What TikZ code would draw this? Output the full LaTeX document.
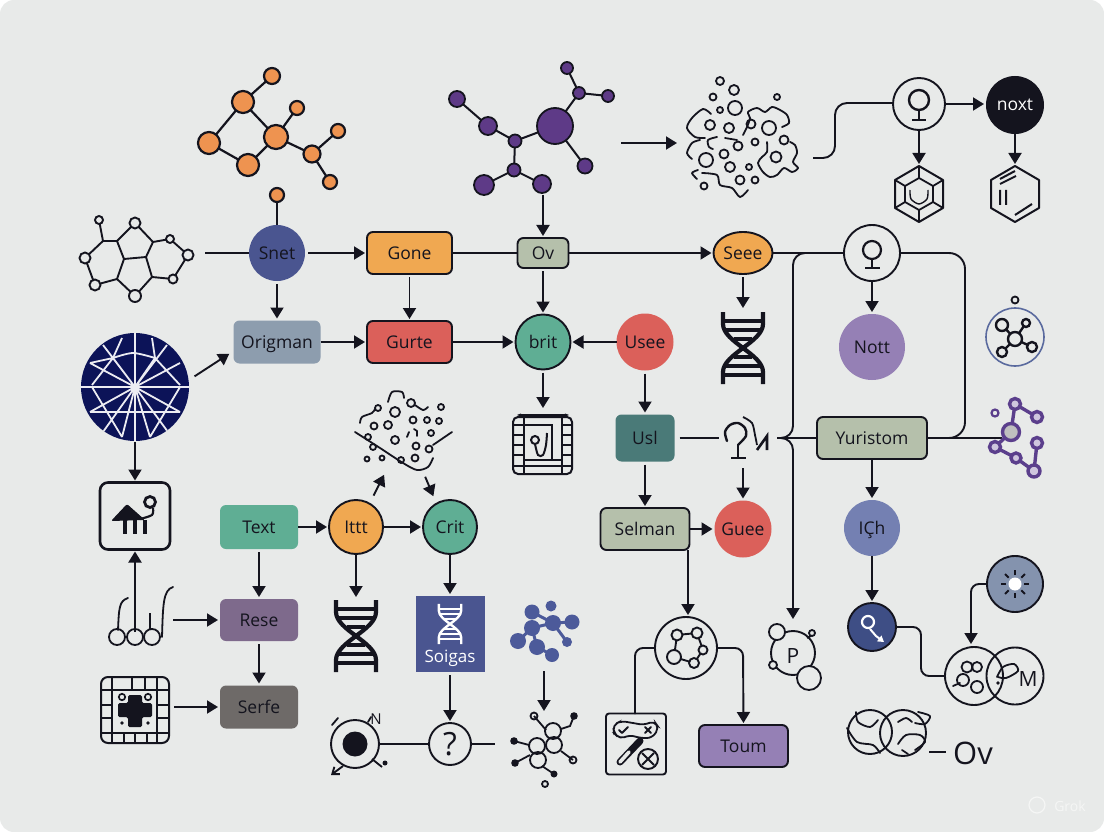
\documentclass[tikz,border=0pt]{standalone}
\usepackage{fontspec}
\setmainfont{Open Sans}
\usetikzlibrary{arrows.meta,shapes.geometric}
\definecolor{bgc}{HTML}{E8EAE9}
\definecolor{ink}{HTML}{14141E}
\definecolor{cOrange}{HTML}{F0A851}
\definecolor{cAtomO}{HTML}{EE9350}
\definecolor{cRed}{HTML}{DB605A}
\definecolor{cTeal}{HTML}{5FAE94}
\definecolor{cSage}{HTML}{B5C0AB}
\definecolor{cNavy}{HTML}{4A5590}
\definecolor{cSlate}{HTML}{8D9DAE}
\definecolor{cPurple}{HTML}{5E3A87}
\definecolor{cLilac}{HTML}{9580B5}
\definecolor{cPetrol}{HTML}{4A7A78}
\definecolor{cMauve}{HTML}{7E6A8C}
\definecolor{cTaupe}{HTML}{6E6A68}
\definecolor{cPeri}{HTML}{7480B2}
\definecolor{cDeep}{HTML}{3E4E85}
\definecolor{cSteel}{HTML}{8493AE}
\definecolor{cBlueMol}{HTML}{4C5A9A}
\definecolor{cGlobe}{HTML}{0C1358}
\definecolor{cRingBlue}{HTML}{5A6A9E}
\definecolor{cMolP}{HTML}{5B3F8C}
\tikzset{
  every node/.style={font=\fontsize{17.5}{20}\selectfont,text=ink,inner sep=0pt,outer sep=0pt,text height=14pt,text depth=2pt},
  arr/.style={-{Triangle[length=11pt,width=13pt]},line width=1.9pt,draw=ink,shorten <=3pt,shorten >=2pt},
  wire/.style={line width=1.9pt,draw=ink},
  glyph/.style={line width=1.9pt,draw=ink,line cap=round,line join=round},
  fineglyph/.style={line width=1.8pt,draw=ink,line cap=round,line join=round},
  rbox/.style={rectangle,rounded corners=6pt,minimum width=#1,minimum height=42pt},
  rbox/.default=85pt,
  edge2/.style={draw=ink,line width=1.9pt},
  disc/.style={circle,minimum size=#1},
  ringn/.style={circle,minimum size=#1,draw=ink,line width=1.9pt},
}
\newcommand\dnaicon[5]{%
  \begin{scope}[shift={(#1,#2)},scale=#3]
  \draw[draw=#4,line width=#5] (-20,-36) -- (-20,-24) .. controls (-20,-6) and (20,6) .. (20,24) -- (20,36);
  \draw[draw=#4,line width=#5] (20,-36) -- (20,-24) .. controls (20,-6) and (-20,6) .. (-20,24) -- (-20,36);
  \foreach \yy/\hw in {-27/20,-18/18,-9/9,9/9,18/18,27/20}
    \draw[draw=#4,line width=0.72*#5] (-\hw,\yy) -- (\hw,\yy);
  \end{scope}}
\begin{document}
\begin{tikzpicture}[x=1pt,y=-1pt]
\useasboundingbox (0,0) rectangle (1104,832);
\fill[white] (0,0) rectangle (1104,832);
\fill[bgc,rounded corners=14pt] (0,0) rectangle (1104,832);

% named free ends
\coordinate (ringL) at (205,253);
\coordinate (orTip) at (277,202);
\coordinate (purTip) at (543,192);
\coordinate (molR) at (618,143);
\coordinate (blobL) at (679,143);
\coordinate (blobR) at (813,158);
\coordinate (cA) at (835,158);
\coordinate (cB) at (835,103);
\coordinate (hexA) at (919,166);
\coordinate (hexB) at (1015,166);
\coordinate (dnaA) at (743,310);
\coordinate (panelT) at (543,410);
\coordinate (globeE) at (192,378);
\coordinate (globeS) at (135,439);
\coordinate (stemB) at (135,632);
\coordinate (forkR) at (170,620);
\coordinate (boardR) at (171,707);
\coordinate (scatA) at (385,473);
\coordinate (scatB) at (424,474);
\coordinate (dnaB) at (356,599);
\coordinate (molB) at (544,668);
\coordinate (netT) at (544,713);
\coordinate (netL) at (495,744);
\coordinate (knotL) at (719,438);
\coordinate (knotR) at (777,438);
\coordinate (knotB) at (743,465);
\coordinate (junc) at (793,438);
\coordinate (pT) at (793,621);
\coordinate (jTop) at (793,253);
\coordinate (rTop) at (965,253);
\coordinate (rBot) at (965,438);
\coordinate (purN) at (1002,438);
\coordinate (kitB) at (635,714);
\coordinate (kitTop) at (635,648);
\coordinate (toumTop) at (743,648);
\coordinate (bendA) at (921,627);
\coordinate (bendB) at (921,676);
\coordinate (bendC) at (971,584);
\coordinate (selOut) at (688,550);
\coordinate (selIn) at (688,617);

% nodes
\node[disc=56pt,fill=cNavy] (snet) at (277,253) {Snet};
\node[rbox,fill=cOrange,edge2] (gone) at (409.5,253) {Gone};
\node[rbox=51pt,minimum height=30pt,fill=cSage,edge2] (ov) at (543,253) {Ov};
\node[ellipse,fill=cOrange,edge2,minimum width=59pt,minimum height=42pt] (seee) at (743,253) {Seee};
\node[ringn=56pt] (cq) at (872,253) {};
\node[rbox=87pt,minimum height=43pt,fill=cSlate] (origman) at (277,342) {Origman};
\node[rbox,fill=cRed,edge2] (gurte) at (409.5,342) {Gurte};
\node[disc=55pt,fill=cTeal,edge2] (brit) at (543,342) {brit};
\node[disc=57pt,fill=cRed] (usee) at (645,342) {Usee};
\node[disc=66pt,fill=cLilac] (nott) at (872,347) {Nott};
\node[ringn=52pt] (ct) at (919,104) {};
\node[disc=58pt,fill=ink,text=white] (noxt) at (1015,105) {noxt};
\node[rbox=59pt,minimum height=47pt,fill=cPetrol] (usl) at (645,438) {Usl};
\node[rbox=110pt,fill=cSage,edge2] (yur) at (872,438) {Yuristom};
\node[rbox=89pt,fill=cSage,edge2] (selman) at (645,529) {Selman};
\node[disc=57pt,fill=cRed] (guee) at (743,529) {Guee};
\node[disc=56pt,fill=cPeri] (ich) at (872,528) {IÇh};
\node[disc=48pt,fill=cDeep,edge2] (dark) at (872,627) {};
\node[disc=56pt,fill=cSteel,edge2] (burst) at (1015,584) {};
\node[ringn=58pt] (ovA) at (974,676) {};
\node[ringn=57pt] (ovB) at (1015,676) {};
\node[ringn=62pt] (ringc) at (686,648) {};
\node[rbox=89pt,fill=cLilac,edge2] (toum) at (743.5,746) {Toum};
\node[ringn=44pt] (pc) at (793,653) {};
\node[rectangle,rounded corners=8pt,minimum width=70pt,minimum height=67pt,draw=ink,line width=2.6pt] (hbox) at (135,516) {};
\node[rbox=78pt,minimum height=44pt,fill=cTeal] (text) at (259,527) {Text};
\node[disc=54pt,fill=cOrange,edge2] (ittt) at (356,527) {Ittt};
\node[disc=54pt,fill=cTeal,edge2] (crit) at (450,527) {Crit};
\node[rbox=78pt,fill=cMauve] (rese) at (259,620) {Rese};
\node[rbox=78pt,minimum height=43pt,fill=cTaupe] (serfe) at (259,707) {Serfe};
\node[rectangle,minimum width=69pt,minimum height=76pt,fill=cNavy] (soig) at (450,634) {};
\node[ringn=42pt] (qc) at (450,744) {};
\node[ringn=48pt] (tgt) at (355,744) {};
\node[rectangle,rounded corners=3pt,minimum width=60pt,minimum height=61pt,draw=ink,line width=1.9pt] (kit) at (636,744) {};

\node[text=white,font=\fontsize{17}{20}\selectfont] at (450,656) {Soigas};
\dnaicon{450}{624}{0.56}{white}{2.4pt}
\node[font=\fontsize{32}{34}\selectfont] at (450,749) {?};
\node[font=\fontsize{21}{22}\selectfont] at (793,657) {P};
\node[font=\fontsize{21}{22}\selectfont] at (1028,680) {M};
\node[font=\fontsize{31}{32}\selectfont] (ovt) at (973,758) {Ov};
\node[font=\fontsize{15}{16}\selectfont] at (376,718) {N};

% connectors
\draw[wire] (ringL) -- (snet.west);
\draw[wire] (orTip) -- (snet.north);
\draw[arr] (snet.east) -- (gone.west);
\draw[wire] (gone.east) -- (ov.west);
\draw[arr,shorten <=0pt] (ov.east) -- (seee.west);
\draw[wire] (seee.east) -- (cq.west);
\draw[arr] (snet.south) -- (origman.north);
\draw[arr] (gone.south) -- (gurte.north);
\draw[arr,shorten <=0pt] (origman.east) -- (gurte.west);
\draw[arr,shorten <=0pt] (gurte.east) -- (brit.west);
\draw[arr] (purTip) -- (ov.north);
\draw[arr] (ov.south) -- (brit.north);
\draw[arr] (brit.south) -- (panelT);
\draw[arr,shorten <=0pt] (usee.west) -- (brit.east);
\draw[arr] (usee.south) -- (usl.north);
\draw[arr] (molR) -- (blobL);
\draw[wire,rounded corners=12pt] (blobR) -- (cA) -- (cB) -- (ct.west |- cB);
\draw[arr,shorten <=0pt] (ct.east) -- (noxt.west |- ct.east);
\draw[arr,shorten <=0pt] (ct.south) -- (hexA);
\draw[arr,shorten <=0pt] (noxt.south) -- (hexB);
\draw[arr] (seee.south) -- (dnaA);
\draw[arr,shorten <=0pt] (cq.south) -- (nott.north);
\draw[wire,rounded corners=12pt] (cq.west) -- (jTop) -- (junc) -- (knotR);
\draw[arr,rounded corners=12pt,shorten <=0pt] (knotR) -- (junc) -- (pT);
\draw[wire] (knotR) -- (yur.west);
\draw[wire,rounded corners=16pt] (cq.east) -- (rTop) -- (rBot) -- (yur.east);
\draw[wire] (yur.east) -- (purN);
\draw[wire,shorten <=5pt] (usl.east) -- (knotL);
\draw[arr] (knotB) -- (guee.north);
\draw[arr] (usl.south) -- (selman.north);
\draw[arr,shorten <=0pt] (selman.east) -- (guee.west);
\draw[arr,shorten <=0pt] (yur.south) -- (ich.north);
\draw[arr,shorten <=0pt] (ich.south) -- (dark.north);
\draw[wire,rounded corners=8pt] (dark.east) -- (bendA) -- (bendB) -- (ovA.west);
\draw[arr,rounded corners=8pt,shorten <=0pt,shorten >=3pt] (burst.west) -- (bendC) -- (bendC |- ovA.north);
\draw[arr,shorten <=0pt] (selOut) -- (selIn);
\draw[wire,rounded corners=8pt] (ringc.west) -- (kitTop) -- (kitB);
\draw[arr,rounded corners=8pt,shorten <=0pt] (ringc.east) -- (toumTop) -- (toum.north);
\draw[arr,shorten >=5pt] (globeE) -- ([yshift=-9pt]origman.west);
\draw[arr] (globeS) -- (hbox.north);
\draw[arr,shorten <=0pt] (stemB) -- (hbox.south);
\draw[arr] (forkR) -- (rese.west);
\draw[arr] (boardR) -- (serfe.west);
\draw[arr] (text.south) -- (rese.north);
\draw[arr] (rese.south) -- (serfe.north);
\draw[arr,shorten <=0pt] (text.east) -- (ittt.west);
\draw[arr,shorten <=0pt] (ittt.east) -- (crit.west);
\draw[arr,shorten <=0pt] (ittt.south) -- (dnaB);
\draw[arr,shorten <=0pt] (crit.south) -- (soig.north);
\draw[arr] (soig.south) -- (qc.north);
\draw[arr,shorten <=9pt] (ittt.60) -- (scatA);
\draw[arr,shorten >=8pt] (scatB) -- (crit.120);
\draw[wire] (tgt.east) -- (qc.west);
\draw[wire] (qc.east) -- (netL);
\draw[arr] (molB) -- (netT);

% ---- orange molecule
\draw[line width=2.2pt,draw=ink] (272,76)--(243,102)--(276,137)--(297,108) (243,102)--(209,143)--(248,165)--(276,137)--(312,154)--(338,131) (312,154)--(330,182);
\foreach \x/\y/\r in {272/76/8,243/102/11,297/108/7,276/137/12,338/131/7,209/143/11,312/154/8.5,248/165/11,330/182/7,277/195/7}
  \draw[line width=2.2pt,draw=ink,fill=cAtomO] (\x,\y) circle (\r);

% ---- ring molecule
\draw[line width=1.9pt,draw=ink] (99,220)--(103,241)--(117,241)--(135,223)--(153,242)--(170,239)--(188,255)--(173,279)--(152,277)--(135,296)--(117,279)--(95,285)--(85,258)--(103,241) (117,241)--(124,259)--(146,257)--(153,242) (124,259)--(117,279) (146,257)--(152,277);
\foreach \x/\y/\r in {99/220/4,135/223/5.5,170/239/4,188/255/5.5,173/279/4.5,135/296/6,95/285/5.5,85/258/5.5}
  \draw[line width=1.9pt,draw=ink,fill=bgc] (\x,\y) circle (\r);

% ---- purple molecule
\draw[line width=2pt,draw=ink] (457,99)--(488,126)--(515,141)--(555,126)--(579,93)--(567,68) (579,93)--(608,96) (555,126)--(585,166) (515,141)--(514,170)--(484,185) (514,170)--(542,184);
\foreach \x/\y/\r in {457/99/8,488/126/9,515/141/6.5,555/126/18,514/170/6.5,484/185/10,542/184/9,567/68/6,579/93/6,608/96/6,585/166/7.5}
  \draw[line width=1.8pt,draw=ink,fill=cPurple] (\x,\y) circle (\r);

% ---- blob
\foreach \x/\y/\r in {720/81/4,734/90/5,713/97/3.5,777/97/3,735/108/7,720/110/3,710/125/5,729/128/5,751/124/4.5,769/128/7,784/140/4.5,755/142/3.5,738/146/4.5,724/154/4.5,706/160/7,776/157/5.5,730/167/5,749/167/3,740/180/4.5,755/180/3.5,704/186/3.5}
  \draw[line width=1.8pt,draw=ink] (\x,\y) circle (\r);
\draw[fineglyph] plot[smooth] coordinates {(705,138)(695,137)(687,128)(692,118)(703,109)(711,114)};
\draw[fineglyph] plot[smooth] coordinates {(700,140)(692,143)(687,153)(692,159)};
\draw[fineglyph] plot[smooth] coordinates {(717,137)(708,140)(709,147)(713,149)};
\draw[fineglyph] plot[smooth] coordinates {(698,170)(692,173)(697,179)};
\draw[fineglyph] plot[smooth] coordinates {(702,173)(717,175)(720,185)(732,188)(740,197)(748,190)};
\draw[fineglyph] plot[smooth] coordinates {(743,135)(747,127)(750,118)(748,112)(757,108)(765,112)(772,107)(780,110)(787,115)(789,123)(782,127)};
\draw[fineglyph] plot[smooth] coordinates {(790,142)(795,145)(797,153)(793,162)(798,168)(792,172)(784,168)(777,175)(770,177)(763,172)(758,163)(762,157)(767,152)(767,142)};
\draw[fineglyph] plot[smooth] coordinates {(725,138)(737,140)};

% ---- glyphs in circles
\draw[line width=2.4pt,draw=ink] (919,100) circle (10);
\draw[line width=2.2pt,draw=ink] (919,110)--(919,120) (912,120)--(926,120);
\draw[line width=2.2pt,draw=ink] (872,250) circle (9);
\draw[line width=2.2pt,draw=ink] (872,259)--(872,268) (865,268)--(880,268);

% ---- hexagons
\draw[line width=2pt,draw=ink,line join=round] (919,166)--(943,180)--(943,208)--(919,222)--(895,208)--(895,180)--cycle;
\draw[line width=1.8pt,draw=ink,line join=round] (919,178)--(933,186)--(933,202)--(919,210)--(905,202)--(905,186)--cycle;
\draw[line width=1.8pt,draw=ink] (919,166)--(919,178) (943,180)--(933,186) (943,208)--(933,202) (919,222)--(919,210) (895,208)--(905,202) (895,180)--(905,186);
\draw[line width=1.4pt,draw=ink] plot[smooth] coordinates {(910,190)(911,199)(919,204)(927,199)(928,190)};
\draw[line width=2pt,draw=ink,line join=round] (1015,166)--(1039,180)--(1039,208)--(1015,222)--(991,208)--(991,180)--cycle;
\draw[line width=2pt,draw=ink] (1000,179)--(1015,171) (1000,184)--(1016,176) (1000,190)--(1000,205) (1006,190)--(1006,205) (1015,215)--(1032,204);

\dnaicon{743}{348}{1}{ink}{4.2pt}
\dnaicon{356}{636}{1}{ink}{4.2pt}

% ---- side molecules
\draw[line width=1.6pt,draw=cRingBlue] (1015,337) circle (29);
\draw[line width=1.8pt,draw=ink] (1015,300) circle (3.5);
\draw[line width=2.4pt,draw=ink] (1002,325)--(1015,339)--(1026,323) (1032,347)--(1015,339)--(1002,352);
\foreach \x/\y/\r in {1015/339/7,1002/325/6,1026/323/4,1032/347/5,1002/352/5}
  \draw[line width=2.4pt,draw=ink,fill=bgc] (\x,\y) circle (\r);
\draw[line width=3.4pt,draw=cMolP] (1015,404)--(1011,432)--(995,447)--(1016,458)--(1034,471)--(1037,443) (1015,404)--(1037,417);
\draw[line width=2.2pt,draw=cMolP] (995,413) circle (3.5);
\foreach \x/\y/\r in {1015/404/5.5,1037/417/5.5,1037/443/5.5,995/447/5.5,1016/458/5,1034/471/6}
  \draw[line width=3.4pt,draw=cMolP,fill=cLilac!45] (\x,\y) circle (\r);
\draw[line width=3.4pt,draw=cMolP,fill=gray!50] (1011,432) circle (8.5);

% ---- knot glyph
\draw[line width=2.4pt,draw=ink,line cap=round] plot[smooth] coordinates {(727,441)(725,432)(730,425)(738,423)(745,428)(746,436)(738,445)};
\draw[line width=2.8pt,draw=ink] (738,444)--(738,458) (731,458)--(746,458);
\draw[line width=1.8pt,draw=ink] plot[smooth] coordinates {(743,417)(752,423)(755,435)(757,445)};
\draw[line width=2.6pt,draw=ink] (757,450)--(767,436)--(767,450);

% ---- burst
\fill[white] (1015,584) circle (6.5);
\foreach \a in {0,45,...,315}
  \draw[line width=1.8pt,draw=ink] (1015,584) ++(\a:9) -- ++(\a:5);

% ---- dark-circle glyph
\draw[line width=2.2pt,draw=white] (868,622) circle (6);
\draw[-{Triangle[length=6pt,width=7pt]},line width=2pt,draw=white] (870,629)--(876,636)--(884,642);

% ---- overlap circle contents
\foreach \x/\y/\r in {967/667/5.5,977/667/5,963/680/6,977/687/6}
  \draw[line width=1.8pt,draw=ink] (\x,\y) circle (\r);
\draw[fineglyph] (953,686)--(960,683);
\draw[fineglyph] plot[smooth] coordinates {(997,677)(1003,667)(1014,664)(1018,671)(1006,678)(998,677)};
\fill[ink] (998,683) circle (1.8);

% ---- ring-c molecule
\draw[line width=1.9pt,draw=ink] (677,635)--(697,633)--(703,650)--(694,663)--(674,657)--(677,635);
\foreach \x/\y/\r in {677/635/5.5,697/633/5.5,703/650/4.5,674/657/7,694/663/5}
  \draw[line width=1.9pt,draw=ink,fill=bgc] (\x,\y) circle (\r);

% ---- P decorations
\foreach \x/\y/\r in {777/632/8,773/665/4,812/633/3,809/678/12}
  \draw[line width=1.8pt,draw=ink,fill=bgc] (\x,\y) circle (\r);
\draw[line width=1.7pt,draw=ink] (807,638)--(811,636);

% ---- kit box contents
\draw[line width=1.8pt,draw=ink,rounded corners=5pt] (614,733)--(613,725)--(621,721)--(633,723)--(644,725)--(654,721)--(659,728)--(652,738)--(640,738)--(630,735)--(620,739)--cycle;
\draw[fineglyph] (619,730)--(622,733)--(628,727) (645,727)--(651,733) (651,727)--(645,733);
\draw[line width=7pt,draw=ink,line cap=round] (620,762)--(640,741);
\draw[line width=3.6pt,draw=bgc,line cap=round] (620,762)--(629,752);
\draw[line width=1.9pt,draw=ink] (648,759) circle (10);
\draw[line width=1.9pt,draw=ink] (642,753)--(654,765) (654,753)--(642,765);

% ---- loops bottom right
\draw[line width=1.9pt,draw=ink] (870,732) circle (22);
\draw[line width=1.9pt,draw=ink] (903,733) circle (23);
\draw[fineglyph] plot[smooth] coordinates {(856,712)(858,722)(870,727)(878,720)};
\draw[fineglyph] plot[smooth] coordinates {(847,728)(857,742)(873,745)(880,753)};
\draw[fineglyph] plot[smooth] coordinates {(898,722)(906,718)(912,722)};
\draw[fineglyph] plot[smooth] coordinates {(918,712)(930,716)(925,724)(915,723)};
\draw[fineglyph] plot[smooth] coordinates {(898,744)(906,735)(920,735)(925,742)(915,750)};
\draw[fineglyph] (902,750)--(908,754);
\draw[wire] (929,752)--(946,752);

% ---- globe
\fill[cGlobe] (135,387) circle (54);
\begin{scope}
\clip (135,387) circle (54);
\draw[line width=1.8pt,draw=white!92!cGlobe]
  (81,387)--(189,387) (135,333)--(135,441)
  (135,387)--(113,358) (135,387)--(155,358) (135,387)--(180,363) (135,387)--(90,363)
  (90,412)--(180,412)
  (135,387)--(90,412) (135,387)--(180,412) (135,387)--(103,432) (135,387)--(122,437) (135,387)--(150,437) (135,387)--(168,432)
  (122,338)--(113,358) (152,338)--(155,358) (92,385)--(113,358) (180,385)--(155,358)
  (103,345)--(135,387) (167,345)--(135,387)
  (92,387)--(122,437) (180,387)--(150,437) (90,363)--(113,358);
\draw[line width=1.8pt,draw=white!92!cGlobe] plot[smooth] coordinates {(113,358)(133,353)(155,358)};
\end{scope}

% ---- house glyph
\fill[ink,rounded corners=2pt] (111,521)--(127,504)--(145,520)--cycle;
\draw[line width=4.4pt,draw=ink] (125,520)--(125,534) (135,520)--(135,534) (145,520)--(145,534);
\draw[line width=2.8pt,draw=ink] (150,502) circle (5.5);
\draw[line width=2.2pt,draw=ink] plot[smooth] coordinates {(153,508)(152,515)(140,519)};

% ---- fork glyph
\foreach \x in {117,135,152}
  \draw[line width=1.8pt,draw=ink] (\x,637) circle (8);
\draw[line width=1.8pt,draw=ink,line cap=round] (118,630) .. controls (119,608) and (119,601) .. (128,598);
\draw[line width=1.8pt,draw=ink,line cap=round] (162,637) .. controls (163,605) and (163,590) .. (173,587);
\draw[line width=1.8pt,draw=ink] (150,613)--(150,630);

% ---- board
\draw[line width=2pt,draw=ink,rounded corners=7pt] (101,677) rectangle (169,743);
\draw[line width=1.7pt,draw=ink] (112,677)--(112,743) (157,677)--(157,743) (101,690)--(169,690) (101,733)--(169,733)
 (132,677)--(132,690) (145,677)--(145,690) (124,733)--(124,743) (135,733)--(135,743) (147,733)--(147,743)
 (101,705)--(112,705) (101,718)--(112,718) (157,705)--(169,705) (157,718)--(169,718);
\fill[ink,rounded corners=1.5pt] (128,695)--(142,695)--(142,703)--(152,703)--(152,717)--(142,717)--(142,727)--(128,727)--(128,717)--(118,717)--(118,703)--(128,703)--cycle;
\draw[line width=1.7pt,draw=ink] (122,697) circle (3.2) (148,697) circle (3.2);
\fill[ink] (122,723) circle (1.8) (148,723) circle (1.8);

% ---- panel under brit
\draw[line width=2pt,draw=ink,rounded corners=5pt] (513,417) rectangle (572,474);
\draw[{Stealth[length=4pt]}-{Stealth[length=4pt]},line width=1.3pt,draw=ink] (517,415)--(569,415);
\draw[line width=1.7pt,draw=ink] (524,417)--(524,474) (562,417)--(562,474) (513,466)--(572,466) (524,425)--(552,425)--(552,460) (524,460)--(562,460)
 (513,425)--(524,425) (513,435)--(524,435) (513,445)--(524,445) (513,455)--(524,455) (562,425)--(572,425) (562,435)--(572,435) (562,445)--(572,445) (562,455)--(572,455);
\draw[line width=2pt,draw=ink] (535,440) circle (4);
\draw[line width=2pt,draw=ink] plot[smooth] coordinates {(535,444)(538,455)(543,455)(546,445)(547,433)};

% ---- scatter
\foreach \x/\y/\r in {378/408/3,395/412/5,411/403/4,441/407/3,374/426/3.5,388/425/4,413/420/3.5,427/420/3,439/421/3,431/433/3,395/440/4,416/446/3.5,429/449/3.5,368/437/3,373/447/3,367/459/2.5,382/458/2.5,401/460/3,415/458/3.5}
  \draw[line width=1.8pt,draw=ink] (\x,\y) circle (\r);
\draw[fineglyph] plot[smooth] coordinates {(355,432)(380,448)(403,463)(417,470)(428,467)(433,458)};
\draw[fineglyph] (433,445)--(452,432);
\draw[fineglyph] plot[smooth] coordinates {(360,423)(362,417)(372,413)(375,409)};
\draw[fineglyph] plot[smooth] coordinates {(388,402)(392,392)(402,392)(404,398)};
\draw[fineglyph] plot[smooth] coordinates {(415,405)(423,410)(428,407)};
\draw[fineglyph] (409,432)--(407,437) (414,429)--(417,431)--(417,436);

% ---- target
\fill[ink] (355,744) circle (12.5);
\draw[fineglyph] (332,725)--(338,718) (368,722)--(371,717);
\draw[-{Straight Barb[length=6pt,width=9pt]},line width=1.9pt,draw=ink] (343,766)--(331,775);
\draw[line width=1.8pt,draw=ink] (372,759)--(382,767);
\fill[ink] (385,763) circle (2.5);

% ---- blue molecule
\draw[line width=3pt,draw=cBlueMol] (532,612)--(553,623)--(572,622) (553,623)--(532,628)--(518,641) (532,628)--(537,647)--(552,655) (553,623)--(567,642);
\foreach \x/\y/\r in {532/612/7.5,551/606/5.5,572/622/7.5,553/623/8,532/628/8,518/641/8,537/647/8,552/655/7,567/642/5}
  \fill[cBlueMol] (\x,\y) circle (\r);

% ---- network
\draw[line width=1.8pt,draw=ink] (534,716)--(546,730) (574,716)--(570,726)--(561,729) (514,741)--(529,745) (573,760)--(561,751) (515,763)--(530,755) (554,774)--(542,766);
\foreach \x/\y/\r in {553/731/8,537/746/8,554/745/8,538/760/8}
  \draw[line width=1.8pt,draw=ink] (\x,\y) circle (\r);
\draw[line width=1.8pt,draw=ink] (534,716) circle (3.5) (573,760) circle (3.5) (545,784) circle (3);
\fill[ink] (574,716) circle (3.8) (514,741) circle (3.8) (515,763) circle (3.8) (554,774) circle (3.5);

% ---- faint mark
\node[text=white!55!bgc,font=\fontsize{14}{16}\selectfont] at (1070,805) {Grok};
\draw[line width=1.2pt,draw=white!55!bgc] (1037,805) circle (8);
\end{tikzpicture}
\end{document}
